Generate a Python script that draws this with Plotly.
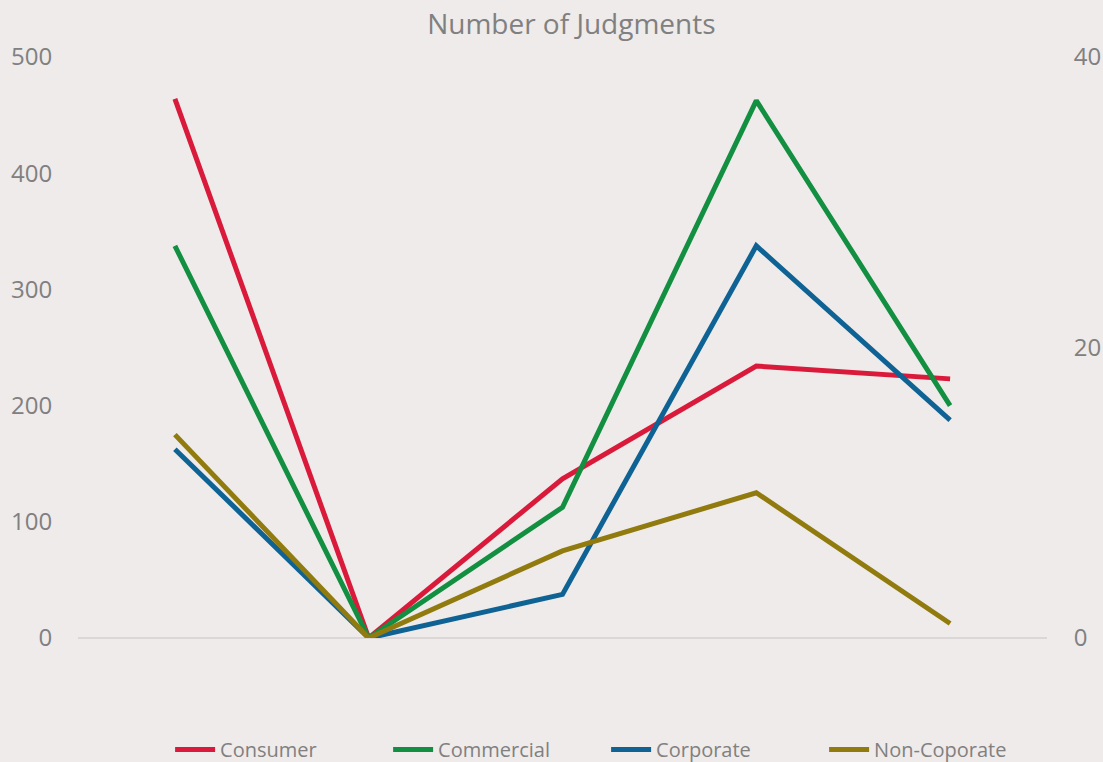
import plotly.graph_objects as go

categories = ["1", "2", "3", "4", "5"]
consumer = [464, 0, 137, 234, 223]          # left axis
commercial = [27, 0, 9, 37, 16]             # right axis
corporate = [13, 0, 3, 27, 15]              # right axis
non_coporate = [14, 0, 6, 10, 1]            # right axis

left_ticks = [0, 100, 200, 300, 400, 500]
right_ticks = [0, 20, 40]

colors = {
    "Consumer": "#DA1A3B",
    "Commercial": "#138F41",
    "Corporate": "#0E6394",
    "Non-Coporate": "#917B0E",
}

x = list(range(len(categories)))
fig = go.Figure()
series = [
    ("Consumer", consumer, "y"),
    ("Commercial", commercial, "y2"),
    ("Corporate", corporate, "y2"),
    ("Non-Coporate", non_coporate, "y2"),
]
for name, vals, ax in series:
    fig.add_trace(go.Scatter(
        x=x, y=vals, name=name, mode="lines", yaxis=ax,
        line=dict(color=colors[name], width=5, shape="linear"),
        cliponaxis=False,
    ))

font_color = "#808080"
fig.update_layout(
    width=1103, height=762,
    paper_bgcolor="#EEEBEA", plot_bgcolor="#EEEBEA",
    font=dict(family="Open Sans, DejaVu Sans, sans-serif", color=font_color, size=20),
    title=dict(text="Number of Judgments", x=0.518, xanchor="center", y=0.968, yanchor="middle",
               font=dict(size=28, color=font_color)),
    margin=dict(l=78, r=56, t=57, b=124, autoexpand=False),
    showlegend=True,
    legend=dict(orientation="h", x=0.545, xanchor="center", y=-0.192, yanchor="middle",
                font=dict(size=20, color=font_color), itemwidth=40, traceorder="normal",
                entrywidth=163, bgcolor="rgba(0,0,0,0)"),
    xaxis=dict(range=[-0.5, len(categories) - 0.5], showticklabels=False, showgrid=False,
               zeroline=False, showline=False, ticks="", tickvals=x, ticktext=categories),
    yaxis=dict(range=[0, 500], tickvals=left_ticks, showgrid=False, zeroline=True,
               zerolinecolor="#DAD7D6", zerolinewidth=1.5, showline=False,
               ticks="outside", ticklen=20, tickcolor="rgba(0,0,0,0)",
               tickfont=dict(size=24, color=font_color)),
    yaxis2=dict(range=[0, 40], tickvals=right_ticks, overlaying="y", side="right",
                showgrid=False, zeroline=False, showline=False,
                ticks="outside", ticklen=21, tickcolor="rgba(0,0,0,0)",
                tickfont=dict(size=24, color=font_color)),
)

fig.write_html("out.html", config={"displayModeBar": False},
               post_script="document.body.style.margin='0';")
